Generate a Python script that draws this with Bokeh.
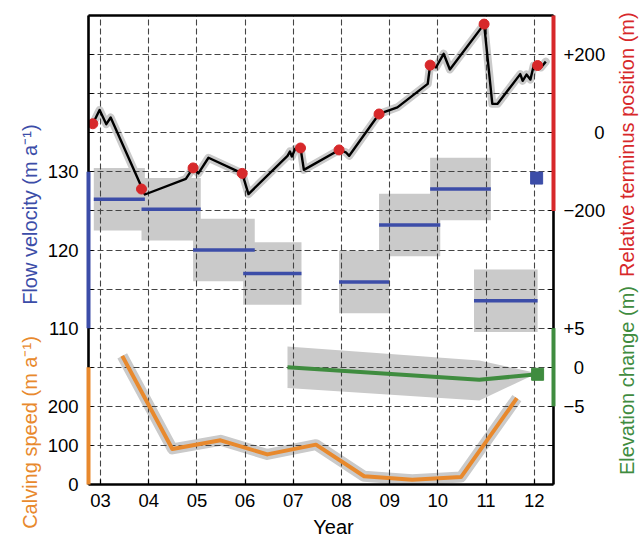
from bokeh.plotting import figure
from bokeh.models import Range1d, LinearAxis, FixedTicker
from bokeh.core.properties import value
from bokeh.embed import file_html
from bokeh.resources import INLINE

# ---------------- data ----------------
years = [2003, 2004, 2005, 2006, 2007, 2008, 2009, 2010, 2011, 2012]
year_labels = ["03", "04", "05", "06", "07", "08", "09", "10", "11", "12"]

# relative terminus position (m)
term_year = [2002.84, 2002.98, 2003.12, 2003.21, 2003.92, 2004.77, 2004.92, 2005.03,
             2005.24, 2005.94, 2006.07, 2006.88, 2006.93, 2006.97, 2007.04, 2007.15,
             2007.22, 2007.95, 2008.09, 2008.16, 2008.78, 2009.16, 2009.79, 2009.84,
             2009.96, 2010.12, 2010.25, 2010.96, 2011.13, 2011.24, 2011.71, 2011.76,
             2011.84, 2011.92, 2011.99, 2012.07, 2012.14, 2012.24]
term_pos = [23, 58, 22, 39, -158, -118, -90, -104,
            -64, -104, -157, -59, -48, -61, -41, -39,
            -95, -44, -50, -59, 48, 65, 125, 173,
            167, 202, 162, 278, 74, 74, 150, 133,
            149, 136, 172, 172, 167, 182]
dot_year = [2002.84, 2003.85, 2004.92, 2005.94, 2007.15, 2007.95, 2008.78, 2009.84, 2010.96, 2012.07]
dot_pos = [23, -144, -90, -104, -39, -44, 48, 173, 278, 172]

# flow velocity (m/a)
vel_start = [2002.86, 2003.85, 2004.92, 2005.96, 2007.95, 2008.78, 2009.84, 2010.75]
vel_end = [2003.92, 2005.08, 2006.20, 2007.17, 2008.99, 2010.05, 2011.10, 2012.07]
vel_value = [126.5, 125.2, 120.0, 117.0, 115.9, 123.2, 127.8, 113.5]
vel_err = [4.0, 4.0, 4.0, 4.0, 4.0, 4.0, 4.0, 4.0]
vel_2012_year = [2012.05]
vel_2012_value = [129.2]

# calving speed (m/a)
calv_year = [2003.45, 2004.49, 2005.49, 2006.46, 2007.47, 2008.47, 2009.47, 2010.48, 2011.64]
calv_speed = [329, 91, 113, 77, 102, 21, 12, 19, 221]

# elevation change (m)
elev_year = [2006.88, 2010.86, 2012.07]
elev_change = [0.0, -1.6, -0.9]
elev_band_year = [2006.88, 2010.86, 2011.95]
elev_band_hi = [2.65, 0.86, -0.6]
elev_band_lo = [-2.65, -4.26, -1.1]

# axis titles
titles = ["Flow velocity (m a\u207b\u00b9)", "Calving speed (m a\u207b\u00b9)",
          "Relative terminus position (m)", "Elevation change (m)"]
x_title = "Year"

# ---------------- styles ----------------
BLUE = "#3C4DA8"
RED = "#D7282A"
ORANGE = "#E8892D"
GREEN = "#3F8C3F"
SHADE = "#CACACA"
FONT = "Liberation Sans"

X0, X1 = 2002.75, 2012.40

p = figure(width=642, height=538, x_range=Range1d(X0, X1), y_range=Range1d(0, 12),
           output_backend="svg", toolbar_location=None,
           min_border_left=88, min_border_right=89, min_border_top=15, min_border_bottom=54)
p.extra_y_ranges = {
    "term": Range1d(-900, 300),   # grid = 9 + m/100
    "vel": Range1d(90, 150),      # grid = 4 + (v-110)/5
    "calv": Range1d(0, 1200),     # grid = c/100
    "elev": Range1d(-15, 45),     # grid = 3 + e/5
}
p.outline_line_color = None
p.background_fill_color = "white"
p.border_fill_color = "white"

# grids
p.xgrid[0].ticker = FixedTicker(ticks=years)
p.ygrid[0].ticker = FixedTicker(ticks=list(range(1, 12)))
for g in (p.xgrid[0], p.ygrid[0]):
    g.grid_line_color = "#444444"
    g.grid_line_dash = "6 3"
    g.grid_line_width = 1.1

def style_axis(ax):
    ax.axis_line_color = None
    ax.major_tick_in = 5
    ax.major_tick_out = 0
    ax.major_tick_line_color = "black"
    ax.major_tick_line_width = 1.2
    ax.minor_tick_line_color = None
    ax.major_label_text_font = FONT
    ax.major_label_text_font_size = "18.5px"
    ax.major_label_text_color = "black"

# bottom axis
xa = p.xaxis[0]
xa.ticker = FixedTicker(ticks=years)
xa.major_label_overrides = {y: l for y, l in zip(years, year_labels)}
style_axis(xa)
xa.major_label_standoff = 9

# left axis (velocity + calving)
left_labels = {i: "" for i in range(13)}
for v in [110, 120, 130]:
    left_labels[int(round(4 + (v - 110) / 5))] = str(v)
for c in [0, 100, 200]:
    left_labels[int(round(c / 100))] = str(c)
ya = p.yaxis[0]
ya.ticker = FixedTicker(ticks=list(range(13)))
ya.major_label_overrides = left_labels
style_axis(ya)
ya.major_label_standoff = 10

# right axis (terminus + elevation)
FS = "\u2007"
right_labels = {i: "" for i in range(13)}
right_labels[11] = "+200"
right_labels[9] = FS * 3 + "0"
right_labels[7] = "\u2212200"
right_labels[4] = "+5"
right_labels[3] = FS + "0"
right_labels[2] = "\u22125"
ra = LinearAxis(ticker=FixedTicker(ticks=list(range(13))), major_label_overrides=right_labels)
style_axis(ra)
ra.major_label_standoff = 10
p.add_layout(ra, "right")

# ---------------- shaded uncertainty (under grid) ----------------
p.quad(left=vel_start, right=vel_end,
       top=[v + e for v, e in zip(vel_value, vel_err)],
       bottom=[v - e for v, e in zip(vel_value, vel_err)],
       y_range_name="vel", fill_color=SHADE, line_color=None, level="image")
p.varea(x=elev_band_year, y1=elev_band_lo, y2=elev_band_hi, y_range_name="elev",
        fill_color=SHADE, level="image")
p.line(term_year, term_pos, y_range_name="term", line_color=SHADE, line_width=8,
       line_join="round", line_cap="round", level="image")
p.line(calv_year, calv_speed, y_range_name="calv", line_color=SHADE, line_width=11,
       line_join="round", level="image")

# ---------------- main series ----------------
p.segment(x0=vel_start, x1=vel_end, y0=vel_value, y1=vel_value, y_range_name="vel",
          line_color=BLUE, line_width=3.5)
p.scatter(vel_2012_year, vel_2012_value, y_range_name="vel", marker="square", size=12,
          fill_color=BLUE, line_color=BLUE)
p.line(calv_year, calv_speed, y_range_name="calv", line_color=ORANGE, line_width=4,
       line_join="round")
p.line(elev_year, elev_change, y_range_name="elev", line_color=GREEN, line_width=4)
p.scatter(elev_year[-1:], elev_change[-1:], y_range_name="elev", marker="square", size=12,
          fill_color=GREEN, line_color=GREEN)
p.line(term_year, term_pos, y_range_name="term", line_color="black", line_width=2.4,
       line_join="round")
p.scatter(dot_year, dot_pos, y_range_name="term", size=10, fill_color=RED, line_color=RED)

# ---------------- frame and coloured axis bars ----------------
p.segment(x0=[X0, X0, X0, X1], x1=[X1, X1, X0, X1], y0=[0, 12, 0, 0], y1=[0, 12, 12, 12],
          line_color="black", line_width=2.6, level="overlay")
p.segment(x0=[X0], x1=[X0], y0=[110], y1=[130], y_range_name="vel",
          line_color=BLUE, line_width=4, level="overlay")
p.segment(x0=[X0], x1=[X0], y0=[0], y1=[300], y_range_name="calv",
          line_color=ORANGE, line_width=4, level="overlay")
p.segment(x0=[X1], x1=[X1], y0=[-200], y1=[300], y_range_name="term",
          line_color=RED, line_width=4, level="overlay")
p.segment(x0=[X1], x1=[X1], y0=[-5], y1=[5], y_range_name="elev",
          line_color=GREEN, line_width=4, level="overlay")

# ---------------- axis titles ----------------
px_per_year = 465 / (X1 - X0)
title_x = [X0 + (29 - 88) / px_per_year, X0 + (29 - 88) / px_per_year,
           X0 + (626 - 88) / px_per_year, X0 + (626 - 88) / px_per_year]
title_y = [(484 - 214) / 39.1, (484 - 432) / 39.1, (484 - 144) / 39.1, (484 - 380) / 39.1]
p.text(x=title_x, y=title_y, text=titles, angle=1.5707963,
       text_color=[BLUE, ORANGE, RED, GREEN], text_align="center", text_baseline="middle",
       text_font=value(FONT), text_font_size="20px", level="overlay")
p.text(x=[X0 + (333 - 88) / px_per_year], y=[(484 - 527) / 39.1], text=[x_title],
       text_color="black", text_align="center", text_baseline="middle",
       text_font=value(FONT), text_font_size="20px", level="overlay")

open("out.html", "w").write(file_html(p, INLINE))
